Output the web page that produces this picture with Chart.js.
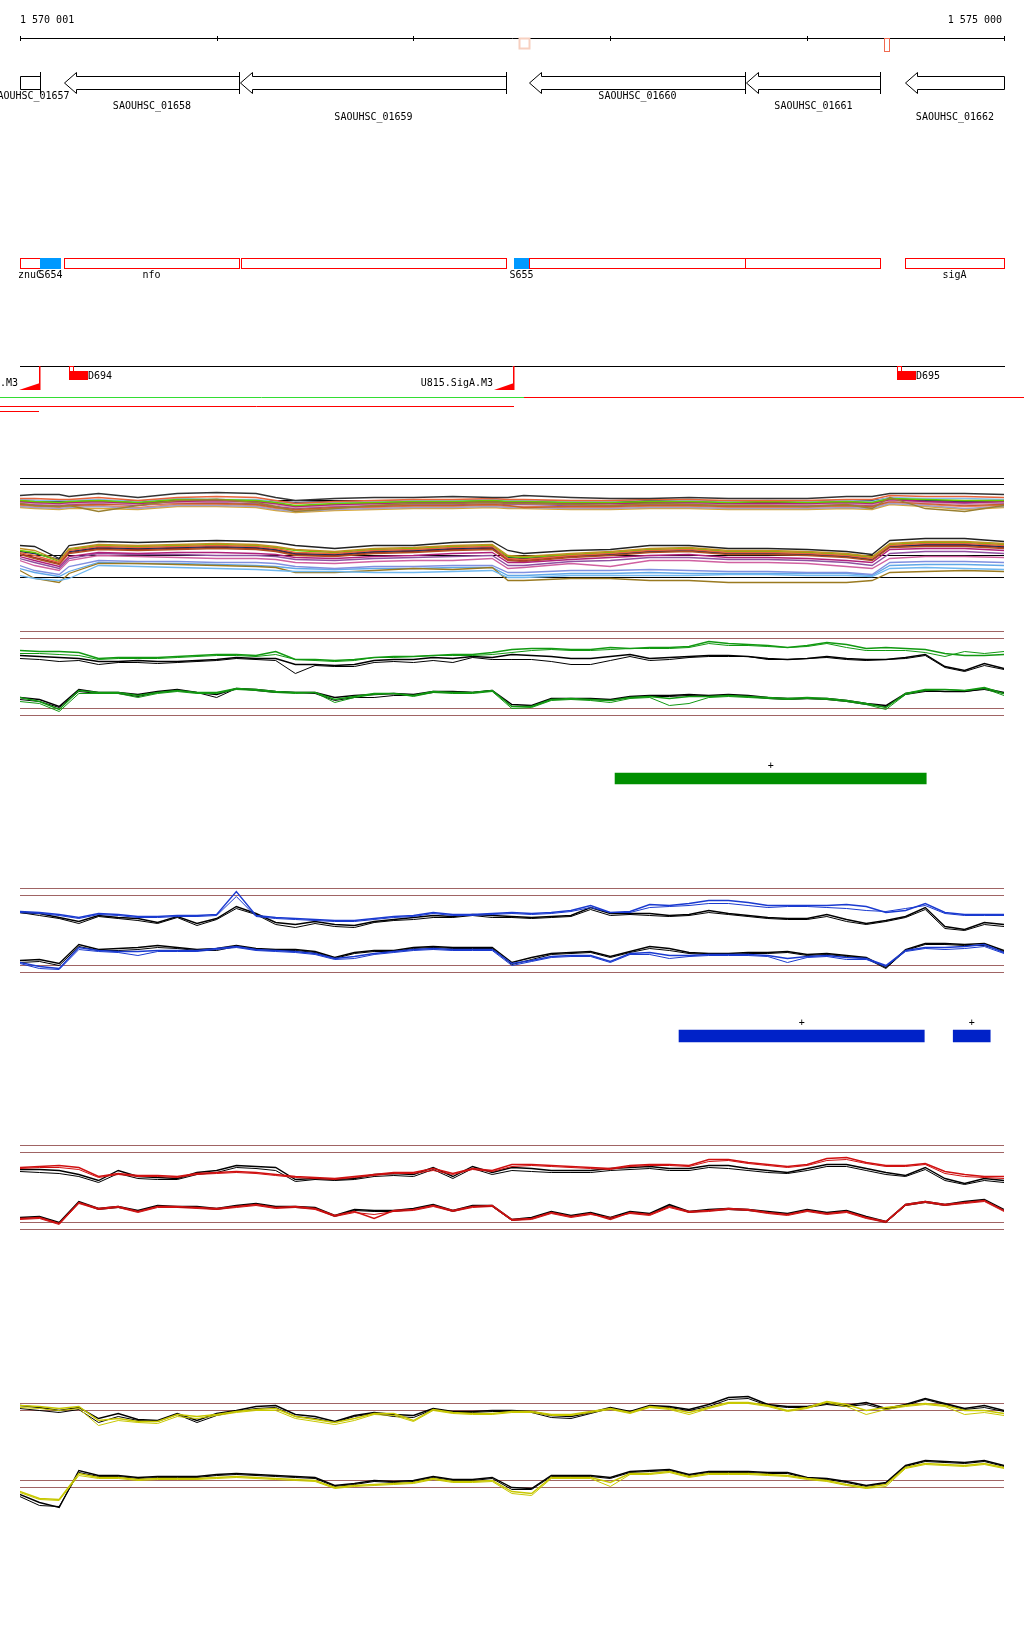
<!DOCTYPE html>
<html>
<head>
<meta charset="utf-8">
<title>SAOUHSC_01657 - sigA region</title>
<script src="https://cdn.jsdelivr.net/npm/chart.js@4.4.1/dist/chart.umd.min.js"></script>
<style>
  body { margin: 0; background: #fff; width: 1024px; height: 1640px; position: relative; overflow: hidden; }
  canvas { position: absolute; left: 0; }
</style>
</head>
<body>
<canvas id="annot"></canvas>
<canvas id="multi"></canvas>
<canvas id="green"></canvas>
<canvas id="greenFeat"></canvas>
<canvas id="blue"></canvas>
<canvas id="blueFeat"></canvas>
<canvas id="red"></canvas>
<canvas id="yellow"></canvas>
<script>
const VIEW_START = 1570001;
const VIEW_END = 1575000;
const FONT = '10px "DejaVu Sans Mono", monospace';

// ruler
const rulerTicks = [1570001, 1571000, 1572000, 1573000, 1574000, 1575000];
const rulerLabels = ["1 570 001", "1 575 000"];
const markStart = [1572538, 1574388];
const markEnd = [1572588, 1574418];

// genes (all on the minus strand)
const geneNames = ["SAOUHSC_01657", "SAOUHSC_01658", "SAOUHSC_01659", "SAOUHSC_01660", "SAOUHSC_01661", "SAOUHSC_01662"];
const geneStart = [1569850, 1570223, 1571121, 1572588, 1573691, 1574495];
const geneEnd = [1570103, 1571114, 1572472, 1573686, 1574368, 1575150];

// operons / sites
const opLabel = ["znuC", "S654", "nfo", "", "S655", "", "", "sigA"];
const opKind = ["op", "site", "op", "op", "site", "op", "op", "op"];
const opStart = [1569900, 1570103, 1570223, 1571123, 1572509, 1572588, 1573686, 1574495];
const opEnd = [1570103, 1570208, 1571114, 1572472, 1572588, 1573686, 1574368, 1575100];

// promoters / terminators
const termLabel = ["U814.SigA.M3", "U815.SigA.M3"];
const termStart = [1569994, 1572407];
const termEnd = [1570095, 1572506];
const tssLabel = ["D694", "D695"];
const tssStart = [1570249, 1574458];
const tssEnd = [1570345, 1574554];

// transcript coverage segments
const covStrand = ["+", "-", "-", "-"];
const covRow = [0, 0, 1, 2];
const covStart = [1569800, 1572560, 1569800, 1569800];
const covEnd = [1572560, 1575300, 1572511, 1570095];

// feature bars
const greenFeatStart = [1573024];
const greenFeatEnd = [1574605];
const greenFeatStrand = ["+"];
const blueFeatStart = [1573349, 1574742];
const blueFeatEnd = [1574595, 1574930];
const blueFeatStrand = ["+", "+"];

// reference levels
const trackRefs = [0, 0.7, 7.7, 8.4];
const multiRefs = [9.9, 9.3, 7.7, 2.2, 0];

// probe positions
const probePos = [1570000, 1570100, 1570200, 1570300, 1570400, 1570500, 1570600, 1570700, 1570800, 1570900,
  1571000, 1571100, 1571200, 1571300, 1571400, 1571500, 1571600, 1571700, 1571800, 1571900,
  1572000, 1572100, 1572200, 1572300, 1572400, 1572500, 1572600, 1572700, 1572800, 1572900,
  1573000, 1573100, 1573200, 1573300, 1573400, 1573500, 1573600, 1573700, 1573800, 1573900,
  1574000, 1574100, 1574200, 1574300, 1574400, 1574500, 1574600, 1574700, 1574800, 1574900, 1575000];
const multiPos = [1570000, 1570075, 1570200, 1570250, 1570400, 1570600, 1570800, 1571000, 1571200, 1571300,
  1571400, 1571600, 1571800, 1572000, 1572200, 1572400, 1572480, 1572560, 1572800, 1573000,
  1573200, 1573400, 1573600, 1573800, 1574000, 1574200, 1574330, 1574420, 1574600, 1574800, 1575000];

// multi-sample track, upper band
const mUp1 = [8.2,8.3,8.3,8.1,8.4,8.0,8.4,8.5,8.4,8.0,7.7,7.9,8.0,8.0,8.1,8.0,8.0,8.2,8.0,7.9,7.9,8.0,7.9,7.9,7.9,8.1,8.1,8.4,8.4,8.4,8.3];
const mUp2 = [7.9,7.9,7.8,7.8,8.0,7.7,8.0,8.1,8.0,7.7,7.4,7.6,7.7,7.8,7.8,7.9,7.8,7.8,7.7,7.7,7.8,7.8,7.7,7.7,7.7,7.8,7.8,8.2,8.1,8.1,8.0];
const mUp3 = [7.4,7.2,7.1,7.2,6.6,7.2,7.7,7.8,7.5,7.1,6.6,6.9,7.2,7.4,7.4,7.5,7.4,7.4,7.3,7.2,7.4,7.3,7.2,7.2,7.1,7.3,6.9,8.0,6.9,6.6,7.2];
const mUp4 = [7.7,7.6,7.5,7.6,7.7,7.5,7.8,7.8,7.7,7.5,7.2,7.4,7.5,7.6,7.6,7.7,7.6,7.6,7.5,7.5,7.6,7.6,7.5,7.6,7.5,7.6,7.5,7.9,7.8,7.7,7.7];
const mUp5 = [7.6,7.5,7.4,7.5,7.6,7.4,7.6,7.7,7.6,7.4,7.1,7.3,7.4,7.5,7.5,7.6,7.5,7.5,7.4,7.4,7.4,7.5,7.4,7.4,7.4,7.5,7.4,7.8,7.6,7.5,7.6];
const mUp6 = [7.8,7.7,7.7,7.7,7.8,7.6,7.9,7.8,7.8,7.6,7.4,7.5,7.6,7.7,7.7,7.8,7.7,7.7,7.6,7.6,7.8,7.7,7.6,7.7,7.6,7.7,7.6,8.0,7.9,7.9,7.8];
const mUp7 = [7.5,7.4,7.3,7.4,7.5,7.3,7.5,7.6,7.5,7.3,7.0,7.2,7.3,7.4,7.4,7.5,7.4,7.4,7.3,7.3,7.4,7.4,7.3,7.3,7.3,7.4,7.3,7.7,7.5,7.3,7.5];
const mUp8 = [7.3,7.2,7.1,7.2,7.3,7.3,7.4,7.4,7.3,7.0,6.8,7.0,7.1,7.2,7.2,7.3,7.2,7.0,7.1,7.1,7.2,7.2,7.1,7.1,7.1,7.2,7.1,7.6,7.4,7.2,7.3];
const mUp9 = [7.1,7.0,6.9,7.0,7.1,6.9,7.2,7.2,7.1,6.8,6.6,6.8,6.9,7.0,7.0,7.1,7.0,7.0,6.9,6.9,7.0,7.0,6.9,6.9,6.9,7.0,6.9,7.4,7.2,6.9,7.1];
const mUp10 = [7.2,7.1,7.0,7.1,7.2,7.0,7.3,7.3,7.2,6.9,6.7,6.9,7.0,7.1,7.1,7.2,7.1,7.1,7.0,7.0,7.1,7.1,7.0,7.0,7.0,7.1,7.0,7.5,7.3,7.1,7.2];
const mUp11 = [7.7,7.7,7.6,7.6,7.7,7.6,7.7,7.8,7.7,7.6,7.5,7.6,7.6,7.7,7.7,7.7,7.7,7.7,7.6,7.6,7.6,7.7,7.6,7.6,7.6,7.7,7.7,7.9,7.7,7.6,7.6];
const mUp12 = [7.4,7.3,7.2,7.3,7.4,7.2,7.5,7.5,7.4,7.1,6.9,7.1,7.2,7.3,7.3,7.4,7.3,7.3,7.2,7.2,7.3,7.3,7.2,7.2,7.2,7.3,7.2,7.7,7.5,7.4,7.4];
const mUp13 = [7.6,7.6,7.5,7.5,7.5,7.5,7.7,7.7,7.6,7.3,7.1,7.3,7.4,7.5,7.6,7.6,7.6,7.6,7.5,7.5,7.5,7.6,7.5,7.5,7.5,7.6,7.5,8.0,7.6,7.4,7.5];
const mUp14 = [7.0,6.9,6.8,6.9,6.9,6.8,7.1,7.1,7.0,6.7,6.5,6.7,6.8,6.9,6.9,7.0,6.9,6.9,6.8,6.8,6.9,6.9,6.8,6.8,6.8,6.9,6.8,7.3,7.1,6.8,7.0];
// multi-sample track, lower band
const mDn1 = [3.2,3.1,1.9,3.2,3.6,3.5,3.6,3.7,3.6,3.5,3.2,2.9,3.2,3.2,3.5,3.6,2.7,2.4,2.7,2.8,3.2,3.2,2.9,2.9,2.8,2.6,2.3,3.7,3.9,3.9,3.6];
const mDn2 = [2.9,2.7,1.7,2.9,3.3,3.2,3.3,3.4,3.3,3.1,2.8,2.6,2.9,3.0,3.2,3.3,2.2,2.1,2.4,2.6,2.9,3.0,2.7,2.7,2.6,2.4,2.1,3.4,3.6,3.6,3.4];
const mDn3 = [2.5,2.2,1.5,2.7,3.1,3.0,3.1,3.2,3.1,2.9,2.5,2.4,2.7,2.8,3.0,3.1,1.9,1.8,2.2,2.4,2.7,2.8,2.5,2.5,2.4,2.2,1.9,3.2,3.4,3.4,3.2];
const mDn4 = [2.7,2.5,1.6,2.8,3.2,3.1,3.2,3.3,3.2,3.0,2.7,2.5,2.8,2.9,3.1,3.2,2.1,2.0,2.3,2.5,2.8,2.9,2.6,2.6,2.5,2.3,2.0,3.3,3.5,3.5,3.3];
const mDn5 = [2.1,1.7,1.1,2.1,2.5,2.4,2.5,2.5,2.4,2.3,2.0,1.9,2.1,2.2,2.4,2.5,1.5,1.5,1.8,2.0,2.2,2.3,2.0,2.0,1.9,1.7,1.5,2.8,2.9,2.9,2.7];
const mDn6 = [0.2,-0.1,-0.3,-0.1,1.2,1.1,1.0,0.9,0.8,0.7,0.6,0.6,0.5,0.5,0.6,0.7,0.0,0.0,0.2,0.2,0.2,0.2,0.3,0.3,0.2,0.2,0.1,0.9,1.0,0.9,0.8];
const mDn7 = [0.7,-0.1,-0.5,0.4,1.4,1.4,1.3,1.2,1.1,1.0,0.5,0.5,0.7,0.9,0.8,1.0,-0.3,-0.3,-0.1,-0.1,-0.3,-0.3,-0.5,-0.5,-0.5,-0.5,-0.3,0.5,0.6,0.7,0.6];
const mDn8 = [1.7,1.2,0.7,1.7,2.2,2.1,2.0,1.9,1.9,1.8,1.5,1.4,1.6,1.7,1.7,1.9,0.9,1.0,1.4,1.1,1.7,1.7,1.5,1.5,1.4,1.1,0.9,1.9,2.1,2.1,2.0];
const mDn9 = [1.2,0.7,0.3,1.1,1.7,1.6,1.6,1.5,1.5,1.4,1.1,0.9,1.1,1.1,1.2,1.2,0.5,0.5,0.7,0.7,0.8,0.7,0.6,0.6,0.5,0.5,0.3,1.5,1.6,1.6,1.5];
const mDn10 = [2.3,1.9,1.3,2.4,2.8,2.7,2.8,2.9,2.8,2.6,2.2,2.1,2.4,2.5,2.7,2.8,1.7,1.6,2.0,2.2,2.5,2.6,2.3,2.3,2.2,2.0,1.7,3.0,3.1,3.1,2.9];
const mDn11 = [2.6,2.4,1.8,2.6,3.0,2.9,3.0,3.1,3.0,2.8,2.4,2.3,2.6,2.7,2.9,3.0,2.0,1.9,2.2,2.3,2.6,2.7,2.4,2.4,2.3,2.1,1.8,3.1,3.3,3.3,3.1];
const mDn12 = [1.9,1.5,0.9,1.9,2.4,2.3,2.3,2.2,2.2,2.1,1.8,1.7,1.9,2.0,2.1,2.2,1.2,1.2,1.6,1.7,2.0,2.0,1.8,1.8,1.7,1.5,1.2,2.4,2.6,2.6,2.4];
const mDn13 = [2.4,2.0,1.4,2.5,2.9,2.8,2.9,3.0,2.9,2.7,2.3,2.2,2.5,2.6,2.8,2.9,1.8,1.7,2.1,2.3,2.6,2.7,2.4,2.4,2.3,2.1,1.8,3.1,3.2,3.2,3.0];
const mDn14 = [0.9,0.5,0.1,0.6,1.5,1.4,1.4,1.3,1.2,1.1,0.9,0.8,0.9,0.9,1.0,1.0,0.2,0.2,0.4,0.4,0.5,0.4,0.4,0.4,0.4,0.4,0.2,1.2,1.3,1.3,1.2];

// green track
const greenUpA = [6.5,6.4,6.4,6.3,5.7,5.8,5.8,5.8,5.9,6.0,6.1,6.1,6.0,6.4,5.6,5.6,5.5,5.6,5.8,5.9,5.9,6.0,6.1,6.1,6.3,6.6,6.7,6.7,6.6,6.6,6.8,6.7,6.8,6.8,6.9,7.4,7.2,7.1,7.0,6.8,7.0,7.3,7.1,6.7,6.8,6.7,6.6,6.2,6.0,6.0,6.1];
const greenUpB = [6.2,6.2,6.1,6.0,5.6,5.7,5.7,5.7,5.8,5.9,6.0,6.0,5.9,6.1,5.6,5.5,5.4,5.5,5.8,5.8,5.9,6.0,6.0,6.0,6.1,6.3,6.5,6.6,6.5,6.5,6.6,6.7,6.7,6.7,6.8,7.2,7.0,7.0,6.9,6.8,6.9,7.2,6.8,6.5,6.5,6.5,6.3,5.9,6.4,6.2,6.4];
const greenUpK1 = [6.0,5.9,5.8,5.7,5.4,5.4,5.5,5.4,5.4,5.5,5.6,5.8,5.7,5.7,5.1,5.1,5.0,5.1,5.5,5.6,5.6,5.8,5.7,5.9,5.8,6.1,6.0,5.9,5.7,5.7,5.9,6.1,5.7,5.8,5.9,6.0,6.0,5.9,5.7,5.6,5.7,5.9,5.7,5.6,5.6,5.8,6.1,4.9,4.5,5.2,4.7];
const greenUpK2 = [5.7,5.6,5.4,5.5,5.1,5.3,5.3,5.2,5.3,5.4,5.5,5.7,5.6,5.5,4.2,5.0,4.9,4.9,5.3,5.4,5.3,5.5,5.3,5.8,5.6,5.6,5.6,5.4,5.1,5.1,5.5,5.9,5.5,5.6,5.8,5.9,5.9,5.9,5.6,5.6,5.7,5.8,5.6,5.5,5.6,5.7,6.0,4.8,4.4,5.0,4.6];
const greenDnA = [1.8,1.4,0.6,2.5,2.3,2.3,2.0,2.3,2.5,2.3,2.3,2.7,2.6,2.4,2.3,2.3,1.6,1.9,2.2,2.2,2.0,2.4,2.3,2.3,2.5,0.9,0.9,1.6,1.7,1.6,1.5,1.8,1.9,1.7,1.9,1.9,2.0,1.9,1.8,1.7,1.8,1.7,1.5,1.2,0.8,2.2,2.6,2.6,2.5,2.8,2.2];
const greenDnB = [1.4,1.2,0.4,2.2,2.2,2.2,1.8,2.2,2.4,2.2,2.2,2.6,2.5,2.3,2.2,2.3,1.3,1.8,2.1,2.2,1.9,2.3,2.2,2.2,2.4,0.7,0.8,1.5,1.6,1.5,1.3,1.7,1.8,1.0,1.2,1.8,1.9,1.8,1.7,1.6,1.7,1.6,1.4,1.1,0.6,2.1,2.5,2.6,2.5,2.7,2.0];
const greenDnK1 = [1.8,1.6,0.9,2.6,2.3,2.3,2.1,2.4,2.6,2.3,2.1,2.7,2.6,2.4,2.3,2.3,1.8,2.0,2.1,2.2,2.1,2.4,2.4,2.3,2.5,1.1,1.0,1.7,1.7,1.7,1.6,1.9,2.0,2.0,2.1,2.0,2.1,2.0,1.8,1.7,1.7,1.7,1.5,1.2,1.0,2.2,2.5,2.4,2.4,2.7,2.3];
const greenDnK2 = [1.6,1.4,0.8,2.4,2.2,2.2,1.9,2.3,2.5,2.3,1.8,2.7,2.5,2.3,2.3,2.2,1.5,1.8,1.8,2.0,2.0,2.3,2.4,2.3,2.5,0.9,0.9,1.6,1.7,1.6,1.5,1.8,1.9,1.9,2.0,1.9,2.0,1.9,1.7,1.6,1.7,1.6,1.4,1.1,0.9,2.1,2.4,2.4,2.4,2.6,2.2];

// blue track
const blueUpA = [6.1,6.0,5.8,5.5,5.9,5.8,5.6,5.6,5.7,5.7,5.8,8.1,5.7,5.5,5.4,5.3,5.2,5.2,5.4,5.6,5.7,6.0,5.8,5.8,5.9,6.0,5.9,6.0,6.2,6.7,6.0,6.1,6.8,6.7,6.9,7.2,7.2,7.0,6.7,6.7,6.7,6.7,6.8,6.6,6.0,6.2,6.9,6.0,5.8,5.8,5.8];
const blueUpB = [6.0,5.9,5.7,5.4,5.8,5.7,5.5,5.5,5.6,5.6,5.7,7.6,5.6,5.4,5.3,5.2,5.1,5.1,5.3,5.5,5.6,5.9,5.7,5.7,5.8,5.9,5.8,5.9,6.1,6.5,6.0,6.0,6.5,6.6,6.7,6.9,6.9,6.7,6.5,6.6,6.6,6.5,6.4,6.2,6.1,6.4,6.7,5.9,5.7,5.7,5.7];
const blueUpK1 = [6.0,5.9,5.5,5.1,5.7,5.5,5.4,5.0,5.6,4.9,5.4,6.6,5.9,5.0,4.8,5.1,4.8,4.7,5.1,5.3,5.5,5.7,5.6,5.8,5.7,5.6,5.5,5.6,5.7,6.5,5.9,5.9,5.9,5.7,5.8,6.2,5.9,5.7,5.5,5.4,5.4,5.8,5.3,4.9,5.2,5.6,6.5,4.6,4.3,5.0,4.8];
const blueUpK2 = [6.0,5.7,5.4,4.9,5.6,5.4,5.2,4.9,5.5,4.7,5.3,6.4,5.8,4.8,4.5,4.9,4.6,4.5,5.0,5.2,5.3,5.5,5.5,5.7,5.5,5.5,5.4,5.5,5.6,6.3,5.7,5.8,5.7,5.6,5.7,6.0,5.8,5.6,5.4,5.3,5.3,5.6,5.1,4.8,5.1,5.5,6.3,4.4,4.2,4.8,4.6];
const blueDnA = [1.0,0.6,0.4,2.5,2.2,2.1,2.1,2.2,2.2,2.2,2.4,2.6,2.3,2.2,2.1,1.9,1.4,1.6,1.9,2.1,2.3,2.4,2.3,2.3,2.3,0.9,1.2,1.6,1.7,1.7,1.1,1.9,2.0,1.7,1.7,1.8,1.8,1.8,1.7,1.4,1.6,1.7,1.5,1.4,0.7,2.2,2.5,2.5,2.6,2.8,2.0];
const blueDnB = [0.9,0.4,0.3,2.3,2.1,2.0,1.7,2.1,2.1,2.1,2.3,2.5,2.2,2.1,2.0,1.8,1.3,1.4,1.8,2.0,2.2,2.3,2.2,2.2,2.2,0.7,1.1,1.5,1.6,1.6,1.0,1.8,1.8,1.4,1.6,1.7,1.7,1.7,1.6,1.0,1.5,1.6,1.3,1.3,0.6,2.1,2.4,2.3,2.4,2.6,1.9];
const blueDnK1 = [1.2,1.3,0.9,2.8,2.3,2.4,2.5,2.7,2.5,2.3,2.4,2.7,2.4,2.3,2.3,2.1,1.5,2.0,2.2,2.2,2.5,2.6,2.5,2.5,2.5,1.0,1.5,1.9,2.0,2.1,1.6,2.1,2.6,2.4,2.0,1.9,1.9,2.0,2.0,2.1,1.8,1.9,1.7,1.5,0.5,2.3,2.9,2.9,2.8,2.9,2.2];
const blueDnK2 = [1.0,1.1,0.7,2.6,2.2,2.2,2.3,2.5,2.4,2.2,2.2,2.6,2.3,2.2,2.2,2.0,1.4,1.9,2.1,2.1,2.4,2.5,2.4,2.4,2.4,0.8,1.3,1.8,1.9,2.0,1.5,2.0,2.4,2.2,1.9,1.8,1.8,1.9,1.9,2.0,1.7,1.8,1.6,1.4,0.4,2.2,2.8,2.8,2.7,2.7,2.1];

// red track
const redUpA = [6.2,6.3,6.4,6.2,5.3,5.6,5.4,5.4,5.3,5.6,5.7,5.8,5.7,5.5,5.3,5.2,5.1,5.3,5.5,5.7,5.7,6.1,5.6,6.1,5.9,6.5,6.5,6.4,6.3,6.2,6.1,6.4,6.5,6.5,6.4,7.0,7.0,6.7,6.5,6.3,6.5,7.1,7.2,6.7,6.4,6.4,6.6,5.8,5.5,5.3,5.3];
const redUpB = [6.1,6.2,6.2,6.0,5.2,5.5,5.3,5.3,5.2,5.5,5.6,5.7,5.6,5.4,5.2,5.1,5.0,5.2,5.4,5.6,5.6,5.9,5.5,6.0,5.8,6.3,6.4,6.3,6.2,6.1,6.0,6.3,6.4,6.4,6.3,6.8,6.9,6.6,6.4,6.2,6.4,6.9,7.0,6.6,6.3,6.3,6.5,5.6,5.3,5.2,5.1];
const redUpK1 = [6.0,6.0,5.9,5.5,4.9,5.9,5.3,5.2,5.1,5.7,5.9,6.4,6.3,6.2,5.0,5.1,5.0,5.1,5.5,5.6,5.5,6.2,5.3,6.3,5.7,6.2,6.1,5.9,5.9,5.9,6.1,6.2,6.3,6.1,6.1,6.4,6.4,6.1,5.9,5.7,6.1,6.5,6.5,6.1,5.7,5.4,6.2,5.1,4.6,5.1,4.9];
const redUpK2 = [5.8,5.7,5.6,5.3,4.7,5.6,5.1,5.0,5.0,5.5,5.7,6.2,6.1,5.9,4.8,5.0,4.9,5.0,5.3,5.4,5.3,6.0,5.1,6.1,5.5,5.9,5.8,5.7,5.7,5.7,5.9,6.0,6.1,5.9,5.9,6.2,6.1,5.9,5.7,5.6,5.9,6.3,6.3,5.9,5.5,5.3,6.0,4.9,4.5,4.9,4.7];
const redDnA = [1.1,1.2,0.6,2.7,2.1,2.3,1.8,2.3,2.3,2.2,2.1,2.3,2.5,2.2,2.3,2.1,1.4,1.8,1.1,1.9,2.0,2.4,1.9,2.3,2.4,1.0,1.1,1.7,1.3,1.6,1.0,1.7,1.5,2.3,1.8,1.9,2.1,2.0,1.7,1.5,1.9,1.6,1.8,1.2,0.8,2.5,2.8,2.5,2.7,2.9,1.9];
const redDnB = [1.0,1.1,0.5,2.6,2.0,2.2,1.7,2.2,2.2,2.1,2.0,2.2,2.4,2.1,2.2,2.0,1.3,1.7,1.5,1.8,1.9,2.3,1.8,2.2,2.3,0.9,1.0,1.6,1.2,1.5,1.2,1.6,1.4,2.2,1.7,1.8,2.0,1.9,1.6,1.4,1.8,1.5,1.7,1.1,0.7,2.4,2.7,2.4,2.6,2.8,1.8];
const redDnK1 = [1.2,1.3,0.7,2.8,2.1,2.3,1.9,2.4,2.3,2.3,2.1,2.4,2.6,2.3,2.3,2.2,1.4,2.0,1.9,1.9,2.1,2.5,1.9,2.4,2.4,1.0,1.2,1.8,1.4,1.7,1.2,1.8,1.6,2.5,1.8,2.0,2.1,2.0,1.8,1.6,2.0,1.7,1.9,1.3,0.8,2.5,2.8,2.5,2.8,3.0,2.0];
const redDnK2 = [1.1,1.2,0.6,2.7,2.0,2.2,1.8,2.3,2.2,2.2,2.0,2.3,2.5,2.2,2.2,2.1,1.3,1.9,1.8,1.8,2.0,2.4,1.8,2.3,2.3,0.9,1.1,1.7,1.3,1.6,1.1,1.7,1.5,2.4,1.7,1.9,2.0,1.9,1.7,1.5,1.9,1.6,1.8,1.2,0.7,2.4,2.7,2.4,2.7,2.9,1.9];

// yellow track
const yellowUpA = [8.2,8.1,7.9,8.1,6.7,6.9,6.6,6.6,7.3,7.1,7.3,7.6,7.8,7.9,7.1,6.8,6.5,6.9,7.4,7.4,6.7,7.8,7.5,7.4,7.4,7.6,7.6,7.3,7.3,7.6,7.9,7.5,8.1,7.9,7.5,8.0,8.5,8.5,8.2,7.7,8.0,8.6,8.3,7.7,8.0,8.2,8.4,8.2,7.7,7.7,7.4];
const yellowUpB = [8.0,7.9,7.7,7.9,6.2,6.7,6.5,6.4,7.1,6.9,7.2,7.5,7.7,7.7,6.9,6.6,6.3,6.7,7.3,7.2,6.6,7.7,7.4,7.3,7.3,7.5,7.5,7.2,7.2,7.5,7.8,7.4,8.0,7.8,7.3,7.9,8.4,8.4,8.1,7.6,7.9,8.5,8.1,7.3,7.8,8.1,8.3,8.1,7.3,7.5,7.2];
const yellowUpK1 = [8.2,8.0,7.7,8.0,6.9,7.4,6.8,6.7,7.4,6.7,7.4,7.7,8.1,8.2,7.3,7.1,6.6,7.2,7.5,7.3,7.2,7.9,7.6,7.6,7.7,7.7,7.6,7.2,7.1,7.5,8.0,7.6,8.2,8.1,7.8,8.3,9.0,9.1,8.3,8.1,8.1,8.4,8.2,8.5,7.9,8.3,8.9,8.4,7.9,8.2,7.7];
const yellowUpK2 = [7.9,7.7,7.5,7.8,6.5,7.1,6.7,6.6,7.3,6.5,7.2,7.6,7.9,8.0,7.1,6.9,6.5,7.1,7.4,7.1,7.0,7.8,7.5,7.5,7.6,7.6,7.5,7.0,6.9,7.4,7.9,7.5,8.1,8.0,7.7,8.1,8.8,8.9,8.2,8.0,8.0,8.3,8.1,8.3,7.8,8.2,8.8,8.3,7.8,8.0,7.6];
const yellowDnA = [-0.4,-1.1,-1.2,1.4,1.0,1.0,0.8,0.9,0.9,0.9,1.0,1.1,1.0,0.9,0.8,0.7,0.0,0.2,0.3,0.4,0.5,0.9,0.6,0.6,0.7,-0.4,-0.6,1.0,1.0,1.0,0.5,1.4,1.4,1.6,1.1,1.4,1.4,1.4,1.3,1.2,0.9,0.7,0.3,0.0,0.3,2.0,2.4,2.3,2.2,2.4,2.0];
const yellowDnB = [-0.5,-1.2,-1.3,1.2,0.9,0.9,0.7,0.8,0.8,0.8,0.9,1.0,0.9,0.8,0.7,0.6,-0.1,0.1,0.2,0.3,0.4,0.8,0.5,0.5,0.6,-0.6,-0.8,0.9,0.9,0.9,0.1,1.3,1.3,1.5,1.0,1.3,1.3,1.3,1.2,1.1,0.8,0.6,0.2,-0.1,0.1,1.9,2.3,2.2,2.1,2.3,1.9];
const yellowDnK1 = [-0.7,-1.5,-2.0,1.7,1.2,1.2,1.0,1.1,1.1,1.1,1.3,1.4,1.3,1.2,1.1,1.0,0.2,0.4,0.7,0.6,0.7,1.1,0.8,0.8,1.0,0.0,-0.1,1.2,1.2,1.2,1.0,1.6,1.7,1.8,1.3,1.6,1.6,1.6,1.5,1.5,1.0,0.9,0.6,0.2,0.5,2.2,2.7,2.6,2.5,2.7,2.2];
const yellowDnK2 = [-0.9,-1.8,-1.9,1.5,1.1,1.1,0.9,1.0,1.0,1.0,1.2,1.3,1.2,1.1,1.0,0.9,0.1,0.3,0.6,0.5,0.6,1.0,0.7,0.7,0.9,-0.2,-0.2,1.1,1.1,1.1,0.9,1.5,1.6,1.7,1.2,1.5,1.5,1.5,1.4,1.4,0.9,0.8,0.5,0.1,0.4,2.1,2.6,2.5,2.4,2.6,2.1];

// ---------- helpers ----------
function series(pos, vals, color, width) {
    return {
        data: vals.map((v, i) => ({ x: pos[i], y: v })),
        borderColor: color,
        borderWidth: width || 1,
        pointRadius: 0,
        tension: 0,
        fill: false
    };
}

function refLines(values, color) {
    return values.map(v => ({
        data: [{ x: VIEW_START, y: v }, { x: VIEW_END, y: v }],
        borderColor: color,
        borderWidth: 1,
        pointRadius: 0
    }));
}

function prepCanvas(id, top, height) {
    const c = document.getElementById(id);
    c.width = 1024;
    c.height = height;
    c.style.top = top + "px";
    return c;
}

function baseOptions(yMin, yMax, padTop) {
    return {
        responsive: false,
        animation: false,
        devicePixelRatio: 1,
        events: [],
        layout: { padding: { left: 20, right: 20, top: padTop || 0, bottom: 0 } },
        plugins: { legend: { display: false }, tooltip: { enabled: false } },
        scales: {
            x: { type: "linear", min: VIEW_START, max: VIEW_END, display: false },
            y: { type: "linear", min: yMin, max: yMax, display: false }
        }
    };
}

// value v is drawn at pixel (ref - 10 v) on the page
function makeTrack(id, top, height, ref, datasets) {
    const yMax = (ref - top) / 10;
    return new Chart(prepCanvas(id, top, height), {
        type: "line",
        data: { datasets },
        options: baseOptions(yMax - height / 10, yMax)
    });
}

const strandPlugin = {
    id: "strand",
    afterDatasetsDraw(chart) {
        const ctx = chart.ctx;
        ctx.save();
        ctx.font = FONT;
        ctx.fillStyle = "#000";
        ctx.textAlign = "center";
        ctx.textBaseline = "middle";
        chart.data.datasets.forEach((ds, i) => {
            const el = chart.getDatasetMeta(i).data[0];
            const p = el.getProps(["x", "y", "base", "height"], true);
            ctx.fillText(ds.strand, (p.x + p.base) / 2, p.y - p.height / 2 - 7);
        });
        ctx.restore();
    }
};

function makeFeatures(id, top, height, padTop, thick, starts, ends, strands, color) {
    const opts = baseOptions(0, 1, padTop);
    opts.indexAxis = "y";
    opts.scales.y = { display: false };
    return new Chart(prepCanvas(id, top, height), {
        type: "bar",
        data: {
            labels: ["f"],
            datasets: starts.map((s, i) => ({
                data: [[s, ends[i]]],
                strand: strands[i],
                backgroundColor: color,
                borderWidth: 0,
                barThickness: thick,
                grouped: false
            }))
        },
        options: opts,
        plugins: [strandPlugin]
    });
}

// ---------- annotation tracks ----------
const annotPlugin = {
    id: "annot",
    afterDraw(chart) {
        const ctx = chart.ctx;
        const xs = chart.scales.x;
        const X = v => Math.round(xs.getPixelForValue(v));
        ctx.save();
        ctx.font = FONT;
        ctx.textBaseline = "middle";
        ctx.lineWidth = 1;

        // ruler
        ctx.strokeStyle = "#000";
        ctx.fillStyle = "#000";
        ctx.beginPath();
        ctx.moveTo(X(VIEW_START), 38.5);
        ctx.lineTo(X(VIEW_END) + 1, 38.5);
        rulerTicks.forEach(t => { ctx.moveTo(X(t) + 0.5, 36); ctx.lineTo(X(t) + 0.5, 41); });
        ctx.stroke();
        ctx.textAlign = "left";
        ctx.fillText(rulerLabels[0], X(VIEW_START), 20.5);
        ctx.textAlign = "right";
        ctx.fillText(rulerLabels[1], X(VIEW_END) - 2, 20.5);

        markStart.forEach((s, i) => {
            if (i === 0) { ctx.strokeStyle = "#f7d0c0"; ctx.lineWidth = 2; }
            else { ctx.strokeStyle = "#f06a50"; ctx.lineWidth = 1; }
            ctx.strokeRect(X(s) + 0.5, 38.5, X(markEnd[i]) - X(s), i === 0 ? 10 : 13);
        });
        ctx.lineWidth = 1;

        // genes
        const rowsY = [96.7, 106.3, 117.7];
        geneNames.forEach((name, i) => {
            const clipL = geneStart[i] < VIEW_START, clipR = geneEnd[i] > VIEW_END;
            const x0 = X(Math.max(geneStart[i], VIEW_START)) + 0.5;
            const x1 = X(Math.min(geneEnd[i], VIEW_END)) + 0.5;
            ctx.strokeStyle = "#000";
            ctx.fillStyle = "#fff";
            ctx.beginPath();
            if (clipL) {
                ctx.rect(x0, 76.5, x1 - x0, 13);
            } else {
                const hx = x0 + 12;
                ctx.moveTo(x0, 83);
                ctx.lineTo(hx, 72.5);
                ctx.lineTo(hx, 76.5);
                ctx.lineTo(x1, 76.5);
                ctx.lineTo(x1, 89.5);
                ctx.lineTo(hx, 89.5);
                ctx.lineTo(hx, 93.5);
                ctx.closePath();
            }
            ctx.fill();
            ctx.stroke();
            if (!clipR) {
                ctx.beginPath();
                ctx.moveTo(x1, 72);
                ctx.lineTo(x1, 94);
                ctx.stroke();
            }
            ctx.fillStyle = "#000";
            ctx.textAlign = "center";
            ctx.fillText(name, (x0 + x1) / 2, rowsY[i % 3]);
        });

        // operons and sites
        opStart.forEach((s, i) => {
            const x0 = X(Math.max(s, VIEW_START));
            const x1 = X(Math.min(opEnd[i], VIEW_END));
            if (opKind[i] === "site") {
                ctx.fillStyle = "#0099ff";
                ctx.fillRect(x0, 258, x1 - x0, 11);
            } else {
                ctx.strokeStyle = "#ff0000";
                ctx.strokeRect(x0 + 0.5, 258.5, x1 - x0, 10);
            }
        });
        ctx.fillStyle = "#000";
        ctx.textAlign = "center";
        opStart.forEach((s, i) => {
            if (!opLabel[i]) return;
            const x0 = X(Math.max(s, VIEW_START));
            const x1 = X(Math.min(opEnd[i], VIEW_END));
            ctx.fillText(opLabel[i], (x0 + x1) / 2, 275.3);
        });

        // promoter line
        ctx.strokeStyle = "#000";
        ctx.beginPath();
        ctx.moveTo(X(VIEW_START), 366.5);
        ctx.lineTo(X(VIEW_END) + 1, 366.5);
        ctx.stroke();

        termStart.forEach((s, i) => {
            const x0 = X(s), x1 = X(termEnd[i]);
            ctx.fillStyle = "#ff0000";
            ctx.beginPath();
            ctx.moveTo(x0, 390);
            ctx.lineTo(x1 + 1, 383);
            ctx.lineTo(x1 + 1, 390);
            ctx.closePath();
            ctx.fill();
            ctx.fillRect(x1, 366, 1.5, 24);
            ctx.fillStyle = "#000";
            ctx.textAlign = "right";
            ctx.fillText(termLabel[i], x0 - 1, 383.3);
        });

        tssStart.forEach((s, i) => {
            const x0 = X(s), x1 = X(tssEnd[i]);
            ctx.strokeStyle = "#ff0000";
            ctx.strokeRect(x0 + 0.5, 366.5, 4, 5);
            ctx.fillStyle = "#ff0000";
            ctx.fillRect(x0, 371, x1 - x0, 9);
            ctx.fillStyle = "#000";
            ctx.textAlign = "left";
            ctx.fillText(tssLabel[i], x1, 376);
        });

        // coverage segments
        const covY = [397.5, 406.5, 411.5];
        covStart.forEach((s, i) => {
            ctx.strokeStyle = covStrand[i] === "+" ? "#33dd33" : "#ff0000";
            ctx.beginPath();
            ctx.moveTo(X(s), covY[covRow[i]]);
            ctx.lineTo(X(covEnd[i]), covY[covRow[i]]);
            ctx.stroke();
        });

        ctx.restore();
    }
};

new Chart(prepCanvas("annot", 0, 460), {
    type: "line",
    data: { datasets: [] },
    options: baseOptions(0, 1),
    plugins: [annotPlugin]
});

// ---------- data tracks ----------
const upColors = ["#333333", "#e8643c", "#9a8030", "#66cc00", "#b0207a", "#88bbee", "#d890b0", "#c0602a", "#a0a0c8", "#f08060", "#1a2a5a", "#9050a0", "#a02828", "#d8a838"];
const dnColors = ["#222222", "#c09020", "#e8643c", "#66cc00", "#b0207a", "#70b8f0", "#9a7a20", "#d060a0", "#8090e0", "#b05020", "#1a2a5a", "#9050a0", "#a02828", "#60a8e8"];
const mUp = [mUp1, mUp2, mUp3, mUp4, mUp5, mUp6, mUp7, mUp8, mUp9, mUp10, mUp11, mUp12, mUp13, mUp14];
const mDn = [mDn1, mDn2, mDn3, mDn4, mDn5, mDn6, mDn7, mDn8, mDn9, mDn10, mDn11, mDn12, mDn13, mDn14];

makeTrack("multi", 460, 140, 577.5, [
    ...mUp.map((v, i) => series(multiPos, v, upColors[i], 1.3)),
    ...mDn.map((v, i) => series(multiPos, v, dnColors[i], 1.3)),
    ...refLines(multiRefs, "#000")
]);

const BROWN = "#a06464";
function pairTrack(id, top, height, ref, color, up, dn) {
    makeTrack(id, top, height, ref, [
        series(probePos, up[0], color, 1.4),
        series(probePos, up[1], color, 1),
        series(probePos, dn[0], color, 1.4),
        series(probePos, dn[1], color, 1),
        series(probePos, up[2], "#000", 1.4),
        series(probePos, up[3], "#000", 1),
        series(probePos, dn[2], "#000", 1.4),
        series(probePos, dn[3], "#000", 1),
        ...refLines(trackRefs, BROWN)
    ]);
}

pairTrack("green", 600, 130, 715.5, "#119911",
    [greenUpA, greenUpB, greenUpK1, greenUpK2], [greenDnA, greenDnB, greenDnK1, greenDnK2]);
makeFeatures("greenFeat", 740, 60, 17, 11, greenFeatStart, greenFeatEnd, greenFeatStrand, "#008f00");

pairTrack("blue", 850, 140, 972.5, "#1a3ad0",
    [blueUpA, blueUpB, blueUpK1, blueUpK2], [blueDnA, blueDnB, blueDnK1, blueDnK2]);
makeFeatures("blueFeat", 1000, 60, 12, 12, blueFeatStart, blueFeatEnd, blueFeatStrand, "#0022c8");

pairTrack("red", 1100, 140, 1229.5, "#d01010",
    [redUpA, redUpB, redUpK1, redUpK2], [redDnA, redDnB, redDnK1, redDnK2]);

pairTrack("yellow", 1370, 150, 1487.5, "#c8c800",
    [yellowUpA, yellowUpB, yellowUpK1, yellowUpK2], [yellowDnA, yellowDnB, yellowDnK1, yellowDnK2]);
</script>
</body>
</html>
